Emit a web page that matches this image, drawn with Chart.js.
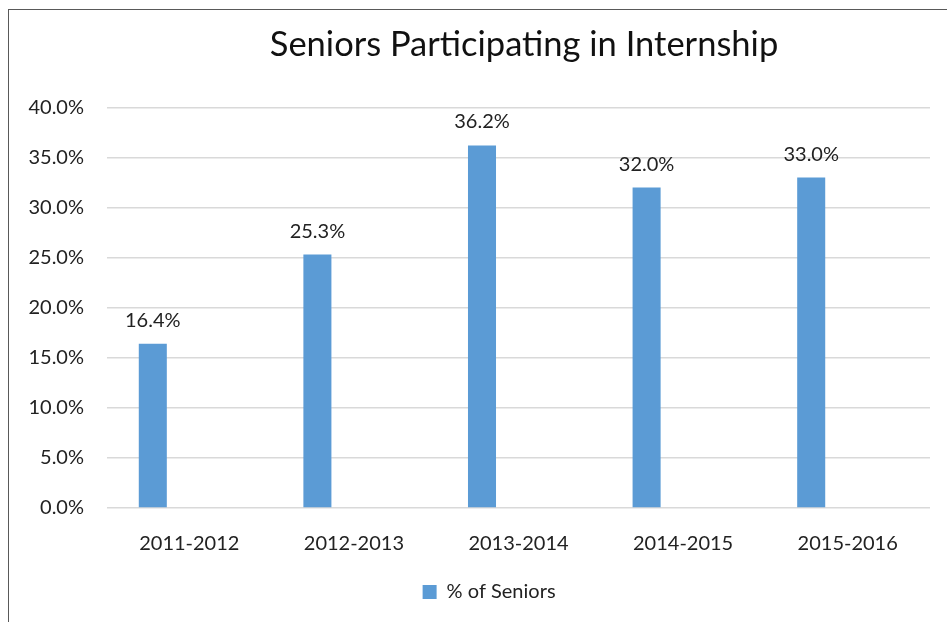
<!DOCTYPE html>
<html>
<head>
<meta charset="utf-8">
<script src="https://cdn.jsdelivr.net/npm/chart.js@4"></script>
<style>
  html, body { margin: 0; padding: 0; background: #fff; overflow: hidden; }
  #box { position: absolute; left: 8px; top: 9px; width: 1030px; height: 640px; border: 1px solid #595959; }
  #box canvas { display: block; }
</style>
</head>
<body>
<div id="box"><canvas id="chartInternship" width="1030" height="640"></canvas></div>
<script>
const years = ['2011-2012', '2012-2013', '2013-2014', '2014-2015', '2015-2016'];
const seniorsPct = [16.4, 25.3, 36.2, 32.0, 33.0]; // % of seniors
const emptySeries = [null, null, null, null, null]; // second (unnamed) series in the original
const yTicks = [0, 5, 10, 15, 20, 25, 30, 35, 40];

const FONT = 'Lato, "Open Sans", sans-serif';

// labels over each bar
const valueLabels = {
    id: 'valueLabels',
    afterDatasetsDraw(chart) {
        const ctx = chart.ctx;
        const meta = chart.getDatasetMeta(0);
        ctx.save();
        ctx.font = '20px ' + FONT;
        ctx.fillStyle = '#222';
        ctx.textAlign = 'center';
        ctx.textBaseline = 'alphabetic';
        meta.data.forEach((bar, i) => {
            ctx.fillText(seniorsPct[i].toFixed(1) + '%', bar.x, bar.y - 17);
        });
        ctx.restore();
    }
};

const ctx = document.getElementById('chartInternship').getContext('2d');
new Chart(ctx, {
    type: 'bar',
    data: {
        labels: years,
        datasets: [{
            label: '% of Seniors',
            data: seniorsPct,
            backgroundColor: '#5B9BD5',
            categoryPercentage: 0.887,
            barPercentage: 0.384
        }, {
            label: '       ',
            data: emptySeries,
            backgroundColor: 'rgba(0,0,0,0)',
            categoryPercentage: 0.887,
            barPercentage: 0.384
        }]
    },
    options: {
        responsive: false,
        animation: false,
        layout: { padding: { left: 0, right: 0, top: 0, bottom: 38 } },
        plugins: {
            title: {
                display: true,
                text: 'Seniors Participating in Internship',
                color: '#111',
                font: { family: FONT, size: 34.5, weight: 'normal' },
                padding: { top: 14, bottom: 42 }
            },
            legend: {
                position: 'bottom',
                labels: {
                    color: '#222',
                    font: { family: FONT, size: 20 },
                    boxWidth: 14,
                    boxHeight: 14,
                    padding: 10
                }
            },
            tooltip: { enabled: false }
        },
        scales: {
            x: {
                grid: { display: false },
                border: { display: false },
                ticks: { color: '#222', font: { family: FONT, size: 20 }, padding: 16 },
                afterFit: s => { s.height = 64; }
            },
            y: {
                min: 0,
                max: 40,
                afterBuildTicks: s => { s.ticks = yTicks.map(v => ({ value: v })); },
                afterFit: s => { s.width = 98; },
                grid: { color: '#d9d9d9', lineWidth: 1.5, drawTicks: false },
                border: { display: false },
                ticks: {
                    color: '#222',
                    font: { family: FONT, size: 20 },
                    padding: 23,
                    callback: v => v.toFixed(1) + '%'
                }
            },
            // empty right-hand space of the original chart frame
            yRight: {
                position: 'right',
                min: 0,
                max: 40,
                grid: { display: false, drawTicks: false },
                border: { display: false },
                ticks: { display: false },
                afterFit: s => { s.width = 109; }
            }
        }
    },
    plugins: [valueLabels]
});
</script>
</body>
</html>
